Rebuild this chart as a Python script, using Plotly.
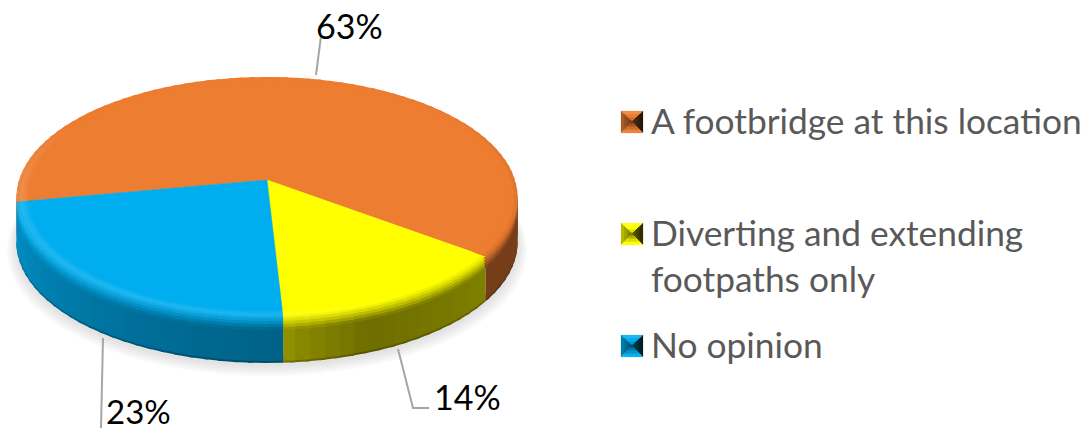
import numpy as np
import plotly.graph_objects as go

# --- data -------------------------------------------------------------
categories = ["A footbridge at this location", "Diverting and extending<br>footpaths only", "No opinion"]
values = [63, 14, 23]
value_labels = ["63%", "14%", "23%"]
slice_colors = [(237, 125, 49), (255, 255, 0), (0, 173, 239)]

# --- pie geometry (pixels) --------------------------------------------
FIRST_ANGLE = 259.6
CX, CY, A, B, K = 267.0, 180.0, 248.0, 118.0, 0.145
DEPTH = 45.0
STEP = 3.0
# brightness of the wall by angle, and of the rim highlight by angle
shade_t = [0, 30, 80, 126, 160, 176, 200, 259, 285, 320, 360]
shade_v = [1.0, 1.0, 0.50, 0.50, 0.43, 0.56, 0.62, 0.82, 0.85, 1.0, 1.0]
glow_t = [0, 90, 150, 180, 265, 285, 300, 360]
glow_v = [0.0, 0.0, 0.0, 0.11, 0.13, 0.07, 0.0, 0.0]


def proj(theta, r=1.0, dy=0.0):
    t = np.radians(theta)
    u, v = r * np.sin(t), r * np.cos(t)
    w = 1 + K * v
    return CX + A * u / w, CY - B * v / w + dy


def mix(c, target, f):
    return tuple(a + (b - a) * f for a, b in zip(c, target))


def scale(c, f):
    return tuple(x * f for x in c)


def rgb(c):
    return "rgb(%d,%d,%d)" % tuple(min(255, max(0, round(x))) for x in c)


def wedge(a0, a1, r=1.0, dy=0.0):
    th = np.linspace(a0, a1, max(3, int(abs(a1 - a0)) + 1))
    x, y = proj(th, r, dy)
    x0, y0 = proj(0, 0, dy)
    return np.r_[x0, x, x0], np.r_[y0, y, y0]


def poly(x, y, color, lw=0.0):
    return go.Scatter(x=x, y=y, mode="lines", fill="toself", fillcolor=color,
                      line=dict(color=color, width=lw), hoverinfo="skip", showlegend=False)


def strip(t0, t1, r0, d0, r1, d1, color):
    xa, ya = proj(np.array([t0, t1]), r0, d0)
    xb, yb = proj(np.array([t1, t0]), r1, d1)
    return poly(np.r_[xa, xb, xa[0]], np.r_[ya, yb, ya[0]], color)


fig = go.Figure()

# slice spans derived from the values
spans = []
start = FIRST_ANGLE
for val in values:
    end = start + val * 3.6
    spans.append((start, end))
    start = end

# soft shadow under the disc
for r, dy in [(1.036, 52), (1.028, 51), (1.02, 50), (1.012, 49), (1.004, 48)]:
    x, y = wedge(0, 360, r, dy)
    fig.add_trace(poly(x, y, "rgba(170,170,178,0.075)"))

# side wall
for d0, d1, depth_f in [(DEPTH, 38, 0.78), (DEPTH - 2, 10, 1.0)]:
    for (a0, a1), col in zip(spans, slice_colors):
        for t in np.arange(a0, a1, STEP):
            tm = (t + STEP / 2) % 360
            if tm < 70 or tm > 290:
                continue
            f = float(np.interp(tm, shade_t, shade_v)) * depth_f
            fig.add_trace(strip(t, min(t + STEP + 1, a1), 1.0, d0, 1.0, d1, rgb(scale(col, f))))

# bevel: each layer runs from its outer edge inwards; the next layer paints over it
# (r, dy, weight of wall colour, weight of highlight)
profile = [(1.0, 12, 0.90, 0.0), (1.0, 9, 0.68, 0.0), (1.0, 6, 0.46, 0.15), (1.0, 3, 0.26, 0.4),
           (1.0, 0, 0.10, 0.75), (0.986, 0, 0.0, 1.0), (0.975, 0, 0.0, 0.75),
           (0.966, 0, 0.0, 0.45), (0.958, 0, 0.0, 0.2)]
for r0, d0, w0, g0 in profile:
    for (a0, a1), col in zip(spans, slice_colors):
        for t in np.arange(a0, a1, STEP):
            tm = (t + STEP / 2) % 360
            wall = scale(col, float(np.interp(tm, shade_t, shade_v)))
            c = mix(col, wall, w0)
            c = mix(c, (255, 255, 255), g0 * float(np.interp(tm, glow_t, glow_v)))
            fig.add_trace(strip(t, min(t + STEP + 1, a1), r0, d0, 0.95, 0, rgb(c)))

# flat face
for (a0, a1), col in zip(spans, slice_colors):
    x, y = wedge(a0, a1, 0.952, 0)
    fig.add_trace(poly(x, y, rgb(col), 0.5))

# legend glyphs
glyph_x = 621.0
glyph_y = [111.0, 223.0, 335.0]
GS = 22.0
glyph_tone = [((1.12, 0.72), 0), ((0.72, 0.42), 1), ((0.18, 0.40), 2), ((1.05, 0.45), 3)]
for gy, col in zip(glyph_y, slice_colors):
    mx, my = glyph_x + GS / 2, gy + GS / 2
    L, R, T, Bt = glyph_x, glyph_x + GS, gy, gy + GS
    edges = [((L, T), (R, T)), ((L, T), (L, Bt)), ((R, T), (R, Bt)), ((L, Bt), (R, Bt))]
    for (tone, e) in glyph_tone:
        (xa, ya), (xb, yb) = edges[e]
        for s, q in [(0.0, 0.0), (0.3, 0.3), (0.6, 0.6), (0.85, 1.0)]:
            f = tone[0] + (tone[1] - tone[0]) * q
            c = mix(col, (255, 255, 255), f - 1) if f > 1 else scale(col, f)
            fig.add_trace(poly([xa + (mx - xa) * s, xb + (mx - xb) * s, mx, xa + (mx - xa) * s],
                               [ya + (my - ya) * s, yb + (my - yb) * s, my, ya + (my - ya) * s],
                               rgb(c), 0.2))

# leader lines
LEAD = "#a6a6a6"
shapes = []
for path in ["M316,75 L321,36", "M398,349 L413,408 L429,408", "M103,338 L101,428"]:
    shapes.append(dict(type="path", path=path, line=dict(color=LEAD, width=2), xref="x", yref="y"))

# labels
annots = []
for (tx, ty), size, t in zip([(349, 25), (467, 396), (138, 411)], [34, 34, 33], value_labels):
    annots.append(dict(x=tx, y=ty, text=t, showarrow=False, xanchor="center", yanchor="middle",
                       font=dict(family="Lato", size=size, color="#000000")))
for (tx, ty), t in zip([(649, 120), (649, 255), (649, 344)], categories):
    annots.append(dict(x=tx, y=ty, text=t, showarrow=False, xanchor="left", yanchor="middle", align="left",
                       font=dict(family="Lato", size=35.3, color="#595959")))

fig.update_layout(
    width=1090, height=433, margin=dict(l=0, r=0, t=0, b=0),
    paper_bgcolor="white", plot_bgcolor="white", showlegend=False,
    xaxis=dict(range=[0, 1090], visible=False, fixedrange=True),
    yaxis=dict(range=[433, 0], visible=False, fixedrange=True),
    shapes=shapes, annotations=annots,
)
fig.write_html("out.html", config={"displayModeBar": False},
               post_script="document.body.style.margin='0';document.documentElement.style.overflow='hidden';")
